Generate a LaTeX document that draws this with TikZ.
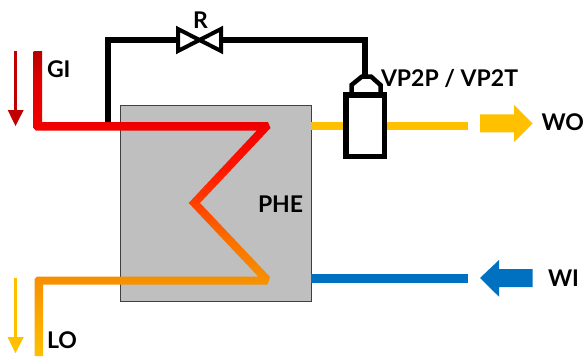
\documentclass[tikz,border=0pt]{standalone}
\usepackage{fontspec}
\setmainfont{Lato}
\definecolor{gA}{HTML}{B80000}
\definecolor{gB}{HTML}{E00000}
\definecolor{gC}{HTML}{F00000}
\definecolor{gD}{HTML}{FF1800}
\definecolor{gE}{HTML}{FF4000}
\definecolor{gF}{HTML}{FA7000}
\definecolor{gG}{HTML}{F79000}
\definecolor{gH}{HTML}{FFC000}
\definecolor{wblue}{HTML}{0070C0}
\definecolor{phegray}{HTML}{BFBFBF}
\definecolor{darkred}{HTML}{C00000}
\pgfdeclareverticalshading{pipegrad}{100bp}{color(0bp)=(gH); color(25bp)=(gH); color(37.5bp)=(gG); color(44bp)=(gF); color(50bp)=(gE); color(55.5bp)=(gD); color(62.7bp)=(gC); color(70.2bp)=(gB); color(75bp)=(gA); color(100bp)=(gA)}
\tikzset{
  lbl/.style={anchor=base west,inner sep=0pt,outer sep=0pt,text=black,font=\fontsize{23}{25}\selectfont\bfseries},
  phebox/.style={draw=black!75,line width=1pt,fill=phegray,minimum width=191pt,minimum height=196pt,inner sep=0pt,outer sep=0pt},
  blk/.style={draw=black,line width=5.5pt,line join=miter},
  wline/.style={line width=8.5pt},
  thinflow/.style={line width=3pt},
}
\begin{document}
\begin{tikzpicture}[x=1pt,y=-1pt]
\useasboundingbox (0,0) rectangle (586,356);
% exchanger
\node[phebox] (phe) at (215.5,203) {};
% water lines
\coordinate (woend) at (467.5,126);
\coordinate (wiend) at (467.5,278.5);
\draw[gH,wline] (phe.east |- woend) -- (woend);
\draw[wblue,wline] (phe.east |- wiend) -- (wiend);
% actuator
\node[draw=black,line width=5.5pt,fill=white,minimum width=38.5pt,minimum height=61.5pt,inner sep=0pt,outer sep=0pt] (act) at (365,125.5) {};
\coordinate (captop) at (365,76.5);
\draw[black,line width=4.5pt,line join=miter] (351.5,92) -- (351.5,85) -- (362,76.5) -- (371,76.5) -- (380.5,85) -- (380.5,92);
% valve and capillary
\coordinate (valve) at (199.5,40);
\coordinate (tap) at (108,122);
\coordinate (corner) at (108,40);
\coordinate (vl) at (178,40);
\coordinate (vr) at (221,40);
\coordinate (corner2) at (365,40);
\draw[blk] (tap) -- (corner) -- (vl);
\draw[blk] (vr) -- (corner2) -- (captop);
\draw[black,line width=4pt,fill=white,line join=miter] (178,29) -- (199.5,40) -- (178,51) -- cycle;
\draw[black,line width=4pt,fill=white,line join=miter] (221,29) -- (199.5,40) -- (221,51) -- cycle;
% refrigerant pipe
\shade[shading=pipegrad] (33.5,51) -- (42,51) -- (42,122) -- (268,122) -- (270.5,128) -- (200,203) -- (270,277) -- (267.5,284.5) -- (43,284.5) -- (43,356) -- (34.5,356) -- (34.5,279) -- (37,276.5) -- (258.2,276.5) -- (188.7,203) -- (256.8,130.5) -- (36,130.5) -- (33.5,128) -- cycle;
% thin flow arrows
\coordinate (ra) at (15.3,51);
\coordinate (rb) at (15.3,112);
\draw[darkred,thinflow] (ra) -- (rb);
\fill[darkred] (7.7,110) -- (23.7,110) -- (15.5,126) -- cycle;
\coordinate (ya) at (15.3,278);
\coordinate (yb) at (15.3,339);
\draw[gH,thinflow] (ya) -- (yb);
\fill[gH] (7.5,337) -- (23.7,337) -- (15.5,353) -- cycle;
% block arrows
\fill[gH] (480,114.3) -- (514,114.3) -- (514,105) -- (532.5,123.5) -- (514,142) -- (514,132.3) -- (480,132.3) -- cycle;
\fill[wblue] (532.5,269) -- (499,269) -- (499,260) -- (480,278) -- (499,296.7) -- (499,287) -- (532.5,287) -- cycle;
% labels
\node[lbl] (gi) at (47,77) {GI};
\node[lbl] (lo) at (47,348) {LO};
\node[lbl] (r) at (193,28) {R};
\node[lbl] (vp) at (381,86) {VP2P / VP2T};
\node[lbl] (wo) at (541.5,130) {WO};
\node[lbl] (wi) at (548,286) {WI};
\node[lbl] (phel) at (258,212) {PHE};
\end{tikzpicture}
\end{document}
